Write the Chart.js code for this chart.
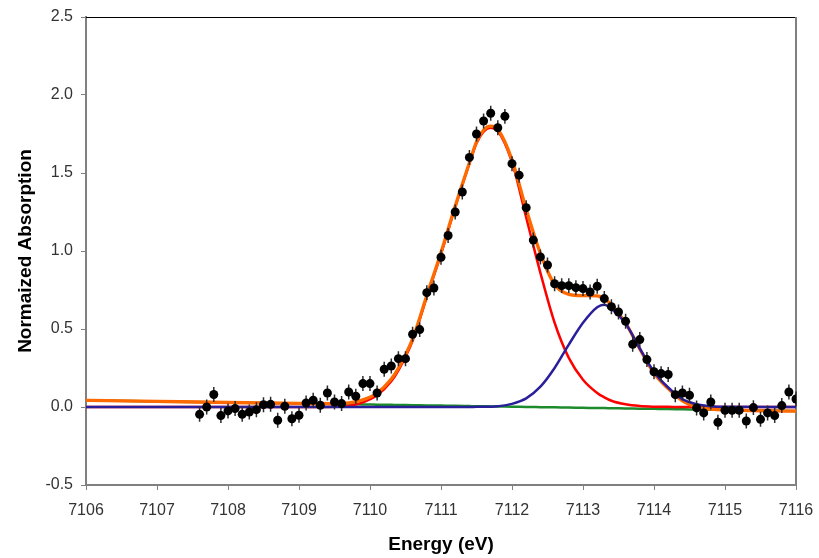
<!DOCTYPE html>
<html>
<head>
<meta charset="utf-8">
<title>Pre-edge fit</title>
<script src="https://cdn.jsdelivr.net/npm/chart.js@4.4.1/dist/chart.umd.min.js"></script>
<style>
  html, body { margin:0; padding:0; background:#fff; }
  #wrap { width:819px; height:558px; }
</style>
</head>
<body>
<div id="wrap"><canvas id="fitChart" width="819" height="558"></canvas></div>
<script>
// measured spectrum (eV, normalized absorption)
const energy = [
  7107.6, 7107.7, 7107.8, 7107.9, 7108.0, 7108.1, 7108.2, 7108.3, 7108.4, 7108.5,
  7108.6, 7108.7, 7108.8, 7108.9, 7109.0, 7109.1, 7109.2, 7109.3, 7109.4, 7109.5,
  7109.6, 7109.7, 7109.8, 7109.9, 7110.0, 7110.1, 7110.2, 7110.3, 7110.4, 7110.5,
  7110.6, 7110.7, 7110.8, 7110.9, 7111.0, 7111.1, 7111.2, 7111.3, 7111.4, 7111.5,
  7111.6, 7111.7, 7111.8, 7111.9, 7112.0, 7112.1, 7112.2, 7112.3, 7112.4, 7112.5,
  7112.6, 7112.7, 7112.8, 7112.9, 7113.0, 7113.1, 7113.2, 7113.3, 7113.4, 7113.5,
  7113.6, 7113.7, 7113.8, 7113.9, 7114.0, 7114.1, 7114.2, 7114.3, 7114.4, 7114.5,
  7114.6, 7114.7, 7114.8, 7114.9, 7115.0, 7115.1, 7115.2, 7115.3, 7115.4, 7115.5,
  7115.6, 7115.7, 7115.8, 7115.9, 7116.0
];
const absorb = [
  -0.047, 0.000, 0.080, -0.055, -0.025, -0.010, -0.047, -0.032, -0.017, 0.015,
  0.017, -0.085, 0.005, -0.075, -0.053, 0.026, 0.043, 0.011, 0.090, 0.032,
  0.022, 0.096, 0.069, 0.150, 0.150, 0.090, 0.242, 0.263, 0.310, 0.310,
  0.466, 0.496, 0.733, 0.763, 0.960, 1.099, 1.250, 1.378, 1.600, 1.750,
  1.833, 1.883, 1.790, 1.863, 1.560, 1.486, 1.278, 1.070, 0.962, 0.910,
  0.790, 0.778, 0.778, 0.765, 0.759, 0.737, 0.774, 0.695, 0.643, 0.609,
  0.549, 0.402, 0.432, 0.304, 0.226, 0.214, 0.208, 0.079, 0.090, 0.075,
  -0.006, -0.038, 0.032, -0.098, -0.021, -0.021, -0.021, -0.090, -0.004, -0.079,
  -0.038, -0.055, 0.009, 0.096, 0.051
];
const absorbErr = 0.048;

// fit components sampled on a common energy grid
const fitEnergy = [
  7106, 7107, 7108, 7109, 7109.5, 7109.7, 7109.9, 7110.1, 7110.3, 7110.4,
  7110.6, 7110.8, 7111.0, 7111.2, 7111.4, 7111.5, 7111.6, 7111.7, 7111.8, 7112.0,
  7112.2, 7112.4, 7112.6, 7112.8, 7113.0, 7113.2, 7113.3, 7113.4, 7113.6, 7113.8,
  7114.0, 7114.2, 7114.4, 7114.6, 7114.8, 7115.0, 7116
];
const fitTotal = [
  0.043, 0.036, 0.029, 0.023, 0.021, 0.026, 0.046, 0.090, 0.180, 0.248,
  0.437, 0.715, 0.990, 1.288, 1.566, 1.700, 1.775, 1.800, 1.780, 1.585,
  1.268, 0.985, 0.785, 0.722, 0.714, 0.712, 0.695, 0.655, 0.538, 0.372,
  0.216, 0.118, 0.040, 0.000, -0.013, -0.019, -0.027
];
const fitPeak1 = [
  0, 0, 0, 0, 0.002, 0.007, 0.030, 0.075, 0.165, 0.235,
  0.425, 0.705, 0.980, 1.280, 1.560, 1.690, 1.765, 1.790, 1.770, 1.570,
  1.215, 0.860, 0.540, 0.315, 0.175, 0.090, 0.062, 0.040, 0.017, 0.006,
  0.002, 0.001, 0, 0, 0, 0, 0
];
const fitPeak2 = [
  0, 0, 0, 0, 0, 0, 0, 0, 0, 0,
  0, 0, 0, 0, 0, 0.001, 0.001, 0.002, 0.005, 0.020,
  0.055, 0.130, 0.250, 0.400, 0.540, 0.640, 0.656, 0.630, 0.535, 0.375,
  0.225, 0.125, 0.050, 0.018, 0.005, 0.001, 0
];
const fitBaseline = [
  0.043, 0.036, 0.029, 0.023, 0.019, 0.018, 0.016, 0.015, 0.014, 0.013,
  0.012, 0.010, 0.009, 0.008, 0.006, 0.005, 0.005, 0.004, 0.003, 0.002,
  0.000, -0.001, -0.002, -0.004, -0.005, -0.007, -0.007, -0.008, -0.009, -0.011,
  -0.012, -0.013, -0.015, -0.016, -0.017, -0.019, -0.025
];

const FONT = "'Liberation Sans', Arial, sans-serif";

function pts(xs, ys){ return xs.map((x, i) => ({ x, y: ys[i] })); }

function fitLine(ys, color, width){
  return {
    data: pts(fitEnergy, ys),
    showLine: true,
    borderColor: color,
    borderWidth: width,
    pointRadius: 0,
    fill: false,
    cubicInterpolationMode: 'monotone'
  };
}

// vertical error bars, drawn just before the points
const errorBars = {
  id: 'errorBars',
  beforeDatasetDraw(chart, args){
    if (args.index !== 0) return;
    const { ctx, scales:{ x, y } } = chart;
    ctx.save();
    ctx.strokeStyle = '#2b2b2b';
    ctx.lineWidth = 1.5;
    ctx.beginPath();
    energy.forEach((e, i) => {
      const px = x.getPixelForValue(e);
      ctx.moveTo(px, y.getPixelForValue(absorb[i] + absorbErr));
      ctx.lineTo(px, y.getPixelForValue(absorb[i] - absorbErr));
    });
    ctx.stroke();
    ctx.restore();
  }
};

// top and right edges of the plot box
const frame = {
  id: 'frame',
  beforeDatasetsDraw(chart){
    const { ctx, chartArea:{ left, right, top, bottom } } = chart;
    ctx.save();
    ctx.strokeStyle = '#000';
    ctx.lineWidth = 1;
    ctx.beginPath();
    ctx.moveTo(left, top + 0.5); ctx.lineTo(right, top + 0.5);
    ctx.stroke();
    ctx.strokeStyle = '#808080';
    ctx.lineWidth = 2;
    ctx.beginPath();
    ctx.moveTo(right, top); ctx.lineTo(right, bottom);
    ctx.stroke();
    ctx.restore();
  }
};

new Chart(document.getElementById('fitChart'), {
  type: 'scatter',
  data: {
    datasets: [
      {
        data: pts(energy, absorb),
        showLine: false,
        pointRadius: 4.5,
        pointBackgroundColor: '#000',
        pointBorderWidth: 0
      },
      fitLine(fitPeak2, '#2a1f9a', 2.5),
      fitLine(fitTotal, '#ff6a00', 3.3),
      fitLine(fitPeak1, '#ff0000', 2.5),
      fitLine(fitBaseline, '#1d8a2c', 2.5)
    ]
  },
  options: {
    responsive: false,
    animation: false,
    layout: { autoPadding: false, padding: { left: 0, right: 23, top: 17, bottom: 0 } },
    plugins: { legend: { display: false }, tooltip: { enabled: false } },
    scales: {
      x: {
        type: 'linear',
        min: 7106, max: 7116,
        afterFit: s => { s.height = 73; s.paddingLeft = 0; s.paddingRight = 0; },
        border: { display: true, color: '#808080', width: 2 },
        grid: { drawOnChartArea: false, drawTicks: true, tickLength: 5, color: '#808080' },
        ticks: {
          stepSize: 1, padding: 11, color: '#333',
          font: { family: FONT, size: 16 },
          callback: v => String(v)
        },
        title: {
          display: true, text: 'Energy (eV)', color: '#000',
          font: { family: FONT, size: 19, weight: 'bold' },
          padding: { top: 0, bottom: 2 }
        }
      },
      y: {
        type: 'linear',
        min: -0.5, max: 2.5,
        afterFit: s => { s.width = 86; s.paddingTop = 0; s.paddingBottom = 0; },
        border: { display: true, color: '#808080', width: 2 },
        grid: { drawOnChartArea: false, drawTicks: true, tickLength: 5, color: '#808080' },
        ticks: {
          stepSize: 0.5, padding: 8, color: '#333',
          font: { family: FONT, size: 16 },
          callback: v => v.toFixed(1)
        },
        title: {
          display: true, text: 'Normaized Absorption', color: '#000',
          font: { family: FONT, size: 19, weight: 'bold' },
          padding: { top: 14, bottom: 0 }
        }
      }
    }
  },
  plugins: [errorBars, frame]
});
</script>
</body>
</html>
